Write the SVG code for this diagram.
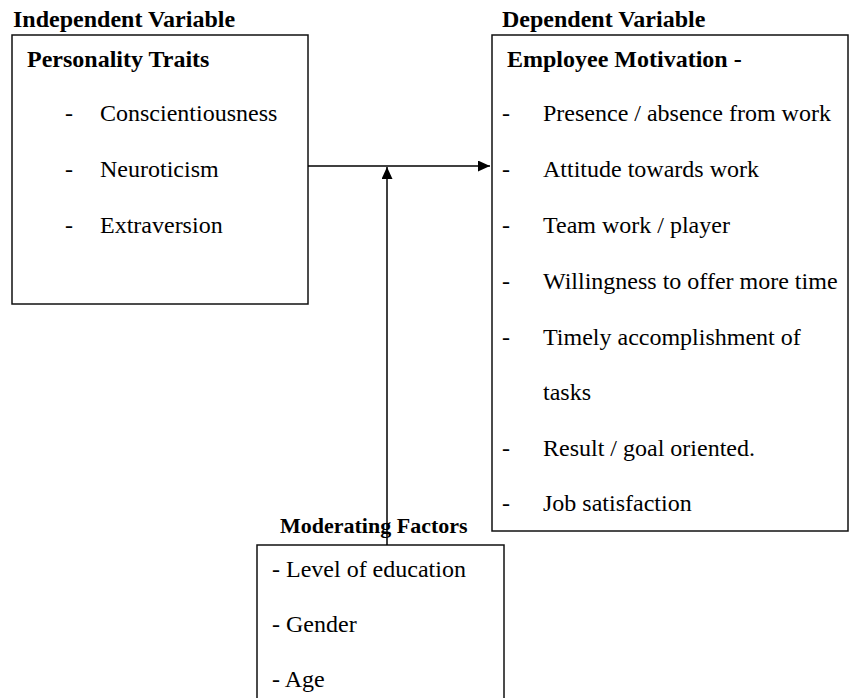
<svg xmlns="http://www.w3.org/2000/svg" width="849" height="698" viewBox="0 0 849 698">
<style>
.box{fill:#fff;stroke:#111;stroke-width:1.5}
.h{font-family:"Liberation Serif","Times New Roman",serif;font-weight:bold;font-size:24px;fill:#000}
.t{font-family:"Liberation Serif","Times New Roman",serif;font-size:24px;fill:#000}
.c{stroke:#000;stroke-width:1.5;fill:none}
</style>
<defs>
<marker id="arr" viewBox="0 0 12 11" refX="12" refY="5.5" markerWidth="12" markerHeight="11" markerUnits="userSpaceOnUse" orient="auto">
<path d="M0,0 L12,5.5 L0,11 Z" fill="#000"/>
</marker>
</defs>
<g id="independent">
<text class="h" x="13" y="27">Independent Variable</text>
<rect class="box" x="12" y="35" width="296" height="269"/>
<text class="h" x="27" y="67">Personality Traits</text>
<text class="t" x="65" y="121">-</text><text class="t" x="100" y="121">Conscientiousness</text>
<text class="t" x="65" y="177">-</text><text class="t" x="100" y="177">Neuroticism</text>
<text class="t" x="65" y="233">-</text><text class="t" x="100" y="233">Extraversion</text>
</g>
<g id="dependent">
<text class="h" x="502" y="27">Dependent Variable</text>
<rect class="box" x="492" y="35" width="356" height="496"/>
<text class="h" x="507" y="67">Employee Motivation -</text>
<text class="t" x="502" y="121">-</text><text class="t" x="543" y="121">Presence / absence from work</text>
<text class="t" x="502" y="177">-</text><text class="t" x="543" y="177">Attitude towards work</text>
<text class="t" x="502" y="233">-</text><text class="t" x="543" y="233">Team work / player</text>
<text class="t" x="502" y="289">-</text><text class="t" x="543" y="289">Willingness to offer more time</text>
<text class="t" x="502" y="345">-</text><text class="t" x="543" y="345">Timely accomplishment of</text>
<text class="t" x="543" y="400">tasks</text>
<text class="t" x="502" y="456">-</text><text class="t" x="543" y="456">Result / goal oriented.</text>
<text class="t" x="502" y="511">-</text><text class="t" x="543" y="511">Job satisfaction</text>
</g>
<g id="moderating">
<rect class="box" x="257" y="545" width="247" height="170"/>
<text class="t" x="272" y="577">- Level of education</text>
<text class="t" x="272" y="632">- Gender</text>
<text class="t" x="272" y="687">- Age</text>
</g>
<g id="connectors">
<line class="c" x1="308" y1="166" x2="490" y2="166" marker-end="url(#arr)"/>
<line class="c" x1="387" y1="545" x2="387" y2="167" marker-end="url(#arr)"/>
</g>
<g id="moderating-label">
<text class="h" x="280" y="533" style="font-size:22px">Moderating Factors</text>
</g>
</svg>
